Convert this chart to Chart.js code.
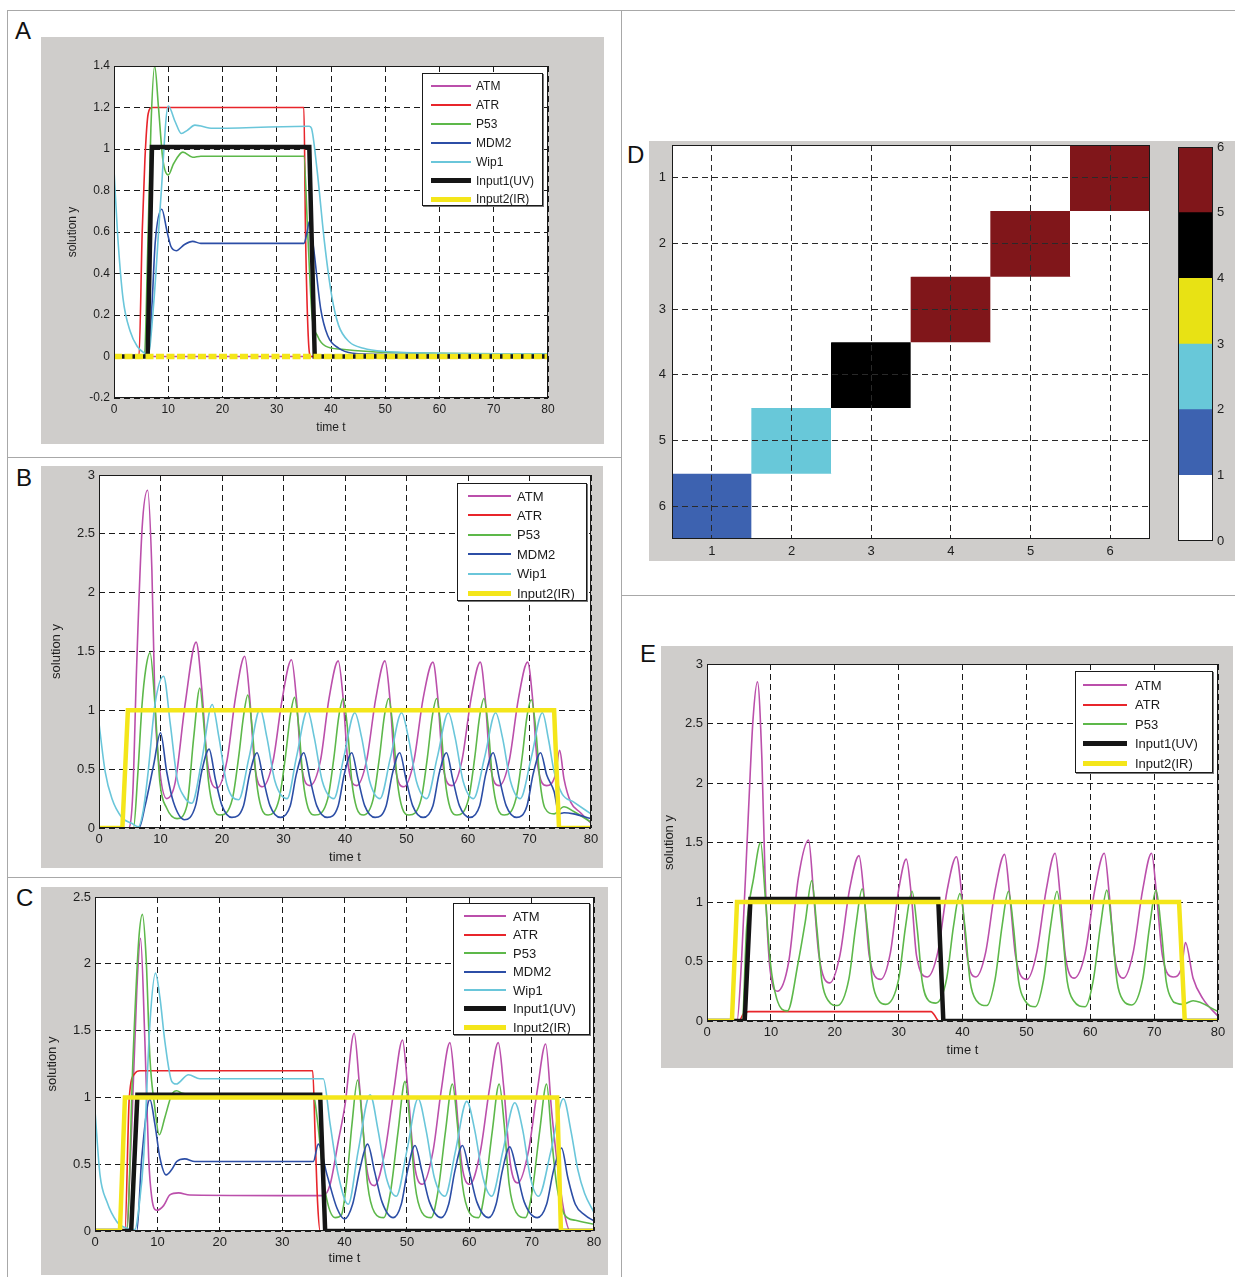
<!DOCTYPE html>
<html>
<head>
<meta charset="utf-8">
<script src="https://cdn.jsdelivr.net/npm/chart.js@4.4.1/dist/chart.umd.min.js"></script>
<style>
  body { margin: 0; width: 1235px; height: 1277px; background: #fff; position: relative; overflow: hidden;
         font-family: "Liberation Sans", Arial, sans-serif; }
  .rule { position: absolute; background: #a8a8a8; }
  .panel { position: absolute; background: #cfcdcb; }
  .panel canvas { position: absolute; left: 0; }
  .tag { position: absolute; font-family: "Liberation Sans Narrow", "Liberation Sans", sans-serif;
         font-size: 24px; line-height: 24px; color: #111; }
  .legend { position: absolute; background: #fff; border: 1px solid #1a1a1a; box-sizing: border-box;
            box-shadow: 1px 1px 0 #777; }
  .legend .ln { position: absolute; }
  .legend .tx { position: absolute; color: #1a1a1a; white-space: nowrap; }
</style>
</head>
<body>
<script>
// ===============================
// DATA  (time t, solution y)
// ===============================
const timeTicks = [0, 10, 20, 30, 40, 50, 60, 70, 80];

// --- panel A : UV only
const aATM  = [[0,0],[80,0]];
const aATR  = [[0,0],[4.6,0],[5.2,0.6],[5.7,0.95],[6.3,1.17],[7,1.2],[35,1.2],[35.3,0.6],[35.8,0.1],[36.3,0],[80,0]];
const aP53  = [[0,0],[5.6,0],[6.2,0.5],[6.8,1.1],[7.5,1.4],[8.2,1.2],[9,0.95],[10,0.875],[11,0.93],[12.7,0.985],[14.5,0.96],[16,0.965],
               [35,0.965],[35.7,0.6],[36.5,0.2],[37.5,0.1],[39,0.05],[42,0.035],[50,0.02],[80,0.012]];
const aMDM2 = [[0,0],[6.3,0],[7,0.25],[7.6,0.55],[8.8,0.71],[9.8,0.6],[10.5,0.53],[11.5,0.51],[13,0.54],[14.5,0.555],[16,0.545],
               [35,0.545],[35.6,0.6],[36,0.65],[36.8,0.52],[38.1,0.23],[39.4,0.1],[41.4,0.04],[44,0.016],[50,0.01],[80,0.008]];
const aWip1 = [[0,0.9],[0.66,0.59],[1.66,0.28],[3,0.12],[4.3,0.048],[5.6,0.016],[6.3,0.01],[7.3,0.25],[8.6,0.75],[10,1.207],[11.3,1.13],
               [12.4,1.075],[13.5,1.09],[14.9,1.115],[18.2,1.1],[36,1.11],[36.4,1.1],[37.4,0.907],[38.8,0.55],[40.1,0.297],[41.4,0.15],
               [43.4,0.07],[46,0.04],[50,0.024],[59.3,0.016],[80,0.013]];
const aUV   = [[0,0],[6.2,0],[7,1.01],[36,1.01],[37,0],[80,0]];
const aIR   = [[0,0],[80,0]];

// --- panel B : IR only
const bATM  = [[0,0],[4.8,0],[5.5,0.3],[6.1,1.34],[7,2.54],[7.9,2.87],[8.6,2.19],[9.1,1.05],[9.9,0.48],[11,0.25],[12.4,0.39],[14,1.05],
               [15.8,1.58],[16.7,1.19],[17.6,0.57],[19.2,0.34],[20.8,0.57],[22.2,1.11],[23.7,1.46],[24.5,1.11],[25.3,0.54],[26.6,0.35],
               [28.3,0.57],[29.8,1.1],[31.3,1.43],[32.1,1.1],[32.9,0.54],[34.3,0.36],[36,0.57],[37.4,1.1],[38.9,1.42],[39.7,1.1],
               [40.5,0.54],[41.9,0.36],[43.5,0.57],[45,1.1],[46.5,1.42],[47.3,1.1],[48.1,0.54],[49.6,0.35],[51.2,0.57],[52.7,1.1],
               [54.3,1.41],[55.1,1.1],[55.9,0.54],[57.4,0.36],[59,0.57],[60.5,1.1],[62,1.41],[62.8,1.1],[63.6,0.54],[65.1,0.36],
               [66.7,0.57],[68.2,1.1],[69.7,1.41],[70.5,1.1],[71.3,0.54],[72.8,0.36],[74.2,0.45],[74.9,0.66],[75.6,0.42],[76.7,0.22],
               [78.3,0.13],[80,0.04]];
const bATR  = [[0,0],[80,0]];
const bP53  = [[0,0],[5.6,0],[6.3,0.45],[7,1.05],[7.6,1.35],[8.3,1.49],[9.1,1.05],[9.9,0.39],[11,0.17],[12.7,0.08],[14.3,0.19],[15.4,0.77],
               [16.4,1.19],[17.1,0.85],[17.8,0.4],[18.6,0.17],[19.7,0.11],[21.7,0.25],[22.7,0.6],[23.5,0.95],[24.2,1.13],[24.9,0.85],
               [25.6,0.4],[26.4,0.17],[27.5,0.11],[29.3,0.25],[30.3,0.6],[31.1,0.95],[31.8,1.11],[32.5,0.85],[33.2,0.4],[34,0.17],
               [35.1,0.11],[37.2,0.25],[38.2,0.6],[39,0.95],[39.7,1.1],[40.4,0.85],[41.1,0.4],[41.9,0.17],[43,0.11],[44.6,0.25],
               [45.6,0.6],[46.4,0.95],[47.1,1.1],[47.8,0.85],[48.5,0.4],[49.3,0.17],[50.4,0.11],[52.4,0.25],[53.4,0.6],[54.2,0.95],
               [54.9,1.1],[55.6,0.85],[56.3,0.4],[57.1,0.17],[58.2,0.11],[60.1,0.25],[61.1,0.6],[61.9,0.95],[62.6,1.1],[63.3,0.85],
               [64,0.4],[64.8,0.17],[65.9,0.11],[67.8,0.25],[68.8,0.6],[69.6,0.95],[70.3,1.09],[71,0.85],[71.7,0.4],[72.5,0.17],
               [74,0.12],[75.6,0.18],[77.2,0.14],[80,0.05]];
const bMDM2 = [[0,0],[6.5,0],[7.5,0.19],[8.9,0.54],[10,0.81],[11,0.48],[12.1,0.22],[13.9,0.07],[15.7,0.19],[16.7,0.48],[17.9,0.67],
               [18.9,0.42],[20,0.19],[21.6,0.09],[23.5,0.19],[24.5,0.46],[25.7,0.64],[26.7,0.42],[27.8,0.19],[29.5,0.09],[31.1,0.19],
               [32.1,0.46],[33.3,0.64],[34.3,0.42],[35.4,0.19],[37.1,0.09],[38.9,0.19],[39.9,0.46],[41.1,0.64],[42.1,0.42],[43.2,0.19],
               [44.9,0.09],[46.7,0.19],[47.7,0.46],[48.9,0.64],[49.9,0.42],[51,0.19],[52.7,0.09],[54.3,0.19],[55.3,0.46],[56.5,0.64],
               [57.5,0.42],[58.6,0.19],[60.3,0.09],[61.9,0.19],[62.9,0.46],[64.1,0.64],[65.1,0.42],[66.2,0.19],[67.9,0.09],[69.6,0.19],
               [70.6,0.46],[71.8,0.64],[72.8,0.45],[74,0.31],[74.8,0.12],[75.6,0.13],[77.2,0.12],[80,0.08]];
const bWip1 = [[0,0.89],[1,0.48],[2.1,0.25],[3.7,0.09],[5.3,0.04],[6.4,0.01],[7.2,0.15],[8,0.48],[9.1,1.05],[10.5,1.29],[11.6,0.88],
               [12.7,0.42],[13.8,0.27],[15.1,0.21],[16.7,0.57],[18.4,1.05],[19.5,0.77],[20.8,0.37],[22.7,0.24],[24.4,0.6],[26.2,1.01],
               [27.3,0.77],[28.6,0.4],[30.6,0.25],[32.1,0.6],[33.9,1.0],[35,0.77],[36.3,0.4],[38.2,0.25],[39.8,0.6],[41.6,0.98],
               [42.7,0.77],[44,0.4],[45.7,0.25],[47.4,0.6],[49.2,0.98],[50.3,0.77],[51.6,0.4],[53.3,0.25],[55,0.6],[56.8,0.98],
               [57.9,0.77],[59.2,0.4],[60.9,0.25],[62.7,0.6],[64.5,0.98],[65.6,0.77],[66.9,0.4],[68.5,0.25],[70.3,0.6],[72.1,0.98],
               [73.1,0.75],[74,0.48],[75.3,0.29],[77.2,0.22],[80,0.12]];
const bIR   = [[0,0],[3.8,0],[4.7,1],[74,1],[74.8,0],[80,0]];

// --- panel C : UV then IR
const cATM  = [[0,0],[5,0],[5.9,0.8],[6.7,1.8],[7.3,2.19],[8,1.42],[8.6,0.55],[9.1,0.25],[9.9,0.155],[11,0.19],[12,0.27],[13.4,0.285],
               [15.2,0.27],[36.6,0.265],[37.7,0.35],[39,0.67],[40.1,0.95],[41.55,1.48],[42.4,1.09],[43.6,0.46],[44.8,0.34],[46.5,0.6],
               [47.9,1.05],[49.3,1.43],[50.1,1.09],[51.2,0.5],[52.5,0.35],[54.2,0.6],[55.5,1.05],[56.9,1.41],[57.7,1.09],[58.8,0.5],
               [60.1,0.35],[61.8,0.6],[63.2,1.05],[64.65,1.41],[65.5,1.09],[66.6,0.5],[67.8,0.36],[69.5,0.6],[70.9,1.05],[72.25,1.4],
               [73.2,0.9],[74,0.55],[75.1,0.17],[76.2,0],[80,0]];
const cATR  = [[0,0],[4.8,0],[5.5,1.0],[6.4,1.18],[7.2,1.2],[34.9,1.2],[35.3,0.7],[35.7,0.2],[36.1,0],[80,0]];
const cP53  = [[0,0],[5.1,0],[6.1,1.3],[7,2.17],[7.6,2.37],[8.2,2.04],[8.8,1.3],[9.6,0.92],[10.3,0.72],[11.2,0.85],[12.3,1.02],[13.1,1.05],
               [14,1.03],[16,1.02],[35,1.02],[35.6,0.85],[36.3,0.55],[36.9,0.3],[38.5,0.1],[39.5,0.12],[40.3,0.35],[41.2,0.8],[42.1,1.13],
               [42.9,0.8],[43.7,0.35],[44.8,0.14],[46.3,0.1],[47.4,0.3],[48.6,0.75],[49.7,1.12],[50.5,0.8],[51.3,0.35],[52.4,0.14],
               [53.9,0.1],[55,0.3],[56.2,0.75],[57.3,1.1],[58.1,0.8],[58.9,0.35],[60,0.14],[61.5,0.1],[62.5,0.3],[63.7,0.75],[64.8,1.1],
               [65.6,0.8],[66.4,0.35],[67.5,0.14],[69,0.1],[70.1,0.3],[71.3,0.75],[72.4,1.1],[73.2,0.7],[74,0.35],[75.3,0.12],[77,0.08],
               [80,0.05]];
const cMDM2 = [[0,0],[6.7,0],[7.5,0.55],[8.8,0.985],[9.6,0.8],[10.4,0.55],[11.4,0.42],[12.3,0.46],[13.1,0.52],[14.4,0.54],[16,0.52],
               [35,0.52],[35.8,0.65],[37.2,0.42],[38.8,0.17],[40,0.09],[41.3,0.2],[42.5,0.47],[43.7,0.65],[44.8,0.45],[46,0.22],[47.8,0.1],
               [49.1,0.2],[50.1,0.45],[51.3,0.64],[52.4,0.45],[53.6,0.22],[55.5,0.1],[56.7,0.2],[57.7,0.45],[58.9,0.64],[60,0.45],
               [61.2,0.22],[63.1,0.1],[64.3,0.2],[65.3,0.45],[66.5,0.63],[67.6,0.45],[68.8,0.22],[70.9,0.1],[72.4,0.2],[73.5,0.45],
               [74.8,0.62],[75.8,0.4],[77,0.2],[78.5,0.12],[80,0.075]];
const cWip1 = [[0,0.9],[0.8,0.42],[1.9,0.22],[3.5,0.07],[5.1,0.02],[6.4,0.01],[7.1,0.2],[7.8,0.55],[8.8,1.55],[9.7,1.93],[10.4,1.75],
               [11.2,1.42],[12.3,1.12],[13,1.1],[15,1.17],[16.8,1.14],[36.6,1.14],[37.7,0.8],[39,0.42],[40.6,0.2],[42.2,0.6],[44.1,1.02],
               [45.4,0.75],[46.7,0.4],[48.3,0.26],[50,0.6],[51.8,0.99],[53.1,0.75],[54.4,0.4],[56.1,0.26],[57.8,0.6],[59.6,0.97],
               [60.9,0.75],[62.2,0.4],[63.6,0.26],[65.4,0.6],[67.3,0.96],[68.6,0.75],[69.8,0.4],[71.1,0.26],[73.1,0.6],[75.1,0.99],
               [76.3,0.75],[77.4,0.46],[78.5,0.28],[80,0.14]];
const cUV   = [[0,0],[5.8,0],[6.8,1.02],[36.1,1.02],[36.9,0],[80,0]];
const cIR   = [[0,0],[4,0],[4.8,1],[74.1,1],[74.7,0],[80,0]];

// --- panel E : UV then IR (no MDM2 / Wip1)
const eATM  = [[0,0],[4.7,0],[5.4,0.5],[6.5,1.77],[7.2,2.53],[7.9,2.85],[8.6,2.19],[9.1,1.2],[9.9,0.42],[11,0.25],[12.8,0.5],[14.3,1.2],
               [15.9,1.52],[16.7,1.06],[17.5,0.56],[19.2,0.32],[20.8,0.55],[22.3,1.1],[23.8,1.39],[24.6,1.05],[25.4,0.55],[27.2,0.35],
               [28.7,0.57],[30,1.1],[31.2,1.36],[32,1.05],[32.8,0.55],[34.5,0.37],[36.1,0.57],[37.6,1.1],[39.05,1.38],[39.9,1.05],
               [40.7,0.55],[42.1,0.37],[43.6,0.57],[45.1,1.1],[46.6,1.4],[47.4,1.05],[48.3,0.55],[50.1,0.35],[51.6,0.57],[53.1,1.1],
               [54.5,1.41],[55.3,1.05],[56.1,0.55],[57.5,0.36],[59.2,0.57],[60.7,1.1],[62.2,1.41],[63,1.05],[63.8,0.55],[65.2,0.36],
               [66.7,0.57],[68.2,1.1],[69.6,1.41],[70.4,1.05],[71.3,0.55],[73,0.37],[74.3,0.45],[74.9,0.66],[76.1,0.36],[77.6,0.19],
               [80,0.04]];
const eATR  = [[0,0],[5,0],[5.7,0.06],[6.5,0.079],[35.1,0.079],[35.6,0.05],[36.3,0],[80,0]];
const eP53  = [[0,0],[5.5,0],[6.2,0.78],[7.3,1.2],[8.4,1.5],[9.1,1.06],[9.9,0.5],[10.9,0.19],[12.6,0.085],[14.3,0.5],[15.4,0.84],[16.4,1.18],
               [17.2,0.78],[18,0.33],[19,0.17],[20.4,0.13],[22.2,0.35],[23.3,0.8],[24.3,1.11],[25.1,0.78],[25.9,0.33],[26.9,0.17],
               [28,0.14],[30,0.35],[31.1,0.8],[32.1,1.09],[32.9,0.78],[33.7,0.33],[34.7,0.17],[35.8,0.15],[37.5,0.35],[38.6,0.8],
               [39.6,1.07],[40.4,0.78],[41.2,0.33],[42.2,0.17],[43.8,0.13],[45.1,0.35],[46.2,0.8],[47.2,1.09],[48,0.78],[48.8,0.33],
               [49.8,0.17],[51.4,0.12],[52.7,0.35],[53.8,0.8],[54.8,1.09],[55.6,0.78],[56.4,0.33],[57.4,0.17],[59.2,0.12],[60.5,0.35],
               [61.6,0.8],[62.6,1.1],[63.4,0.78],[64.2,0.33],[65.2,0.17],[66.5,0.135],[68.2,0.35],[69.3,0.8],[70.3,1.1],[71.1,0.78],
               [71.9,0.33],[72.9,0.17],[73.5,0.15],[74.5,0.14],[76.1,0.17],[80,0.08]];
const eUV   = [[0,0],[5.9,0],[6.8,1.025],[36.2,1.025],[37,0],[80,0]];
const eIR   = [[0,0],[3.9,0],[4.7,1],[73.9,1],[74.8,0],[80,0]];

// --- panel D : 6x6 matrix and its colour scale
const dLabels = [1, 2, 3, 4, 5, 6];
const dRows = [
  [0, 0, 0, 0, 0, 6],
  [0, 0, 0, 0, 6, 0],
  [0, 0, 0, 6, 0, 0],
  [0, 0, 4, 0, 0, 0],
  [0, 2, 0, 0, 0, 0],
  [1, 0, 0, 0, 0, 0]
];
const dLevels = [0, 1, 2, 3, 4, 5, 6];
const dColors = ['#ffffff', '#3d62b0', '#68c8d9', '#e8e214', '#000000', '#80161a'];

// ===============================
// STYLE
// ===============================
const COL = { ATM: '#bb4fab', ATR: '#e8252b', P53: '#5db84a', MDM2: '#2c4ea6', Wip1: '#6ac6da', UV: '#151515', IR: '#f4e61a' };
const TICK = '#1e1e1e';
const fmt = v => String(Math.round(v * 100) / 100);

function s(name, data, kind) {
  const key = name.startsWith('Input1') ? 'UV' : name.startsWith('Input2') ? 'IR' : name;
  return { name, data, color: COL[key], thick: key === 'UV' || key === 'IR', kind };
}

const panels = [
  { tag: 'A', box: [41, 37, 563, 407], lift: 0, pad: { left: 24, top: 29, right: 56, bottom: 9 }, yw: 49, xh: 37, fs: 12,
    y: { min: -0.2, max: 1.4, step: 0.2 },
    legend: { box: [422, 73, 121, 133], first: 12, step: 18.9, lx: 8, lw: 40, tx: 53, fs: 12 },
    sets: [s('ATM', aATM), s('ATR', aATR), s('P53', aP53), s('MDM2', aMDM2), s('Wip1', aWip1),
           s('Input1(UV)', aUV, 'step'), s('Input2(IR)', aIR, 'dots')] },
  { tag: 'B', box: [41, 466, 562, 402], lift: 3, pad: { left: 8, top: 12, right: 12, bottom: 3 }, yw: 50, xh: 37, fs: 13,
    y: { min: 0, max: 3, step: 0.5 },
    legend: { box: [457, 483, 130, 118], first: 12, step: 19.4, lx: 10, lw: 43, tx: 59, fs: 13 },
    sets: [s('ATM', bATM), s('ATR', bATR), s('P53', bP53), s('MDM2', bMDM2), s('Wip1', bWip1),
           s('Input2(IR)', bIR, 'step')] },
  { tag: 'C', box: [41, 887, 567, 388], lift: 2, pad: { left: 4, top: 12, right: 14, bottom: 9 }, yw: 50, xh: 35, fs: 13,
    y: { min: 0, max: 2.5, step: 0.5 },
    legend: { box: [453, 903, 137, 132], first: 12, step: 18.5, lx: 10, lw: 42, tx: 59, fs: 13 },
    sets: [s('ATM', cATM), s('ATR', cATR), s('P53', cP53), s('MDM2', cMDM2), s('Wip1', cWip1),
           s('Input1(UV)', cUV, 'step'), s('Input2(IR)', cIR, 'step')] },
  { tag: 'E', box: [661, 646, 572, 422], lift: 0, pad: { left: 1, top: 18, right: 15, bottom: 10 }, yw: 45, xh: 37, fs: 13,
    y: { min: 0, max: 3, step: 0.5 },
    legend: { box: [1075, 671, 138, 102], first: 13, step: 19.5, lx: 7, lw: 44, tx: 59, fs: 13 },
    sets: [s('ATM', eATM), s('ATR', eATR), s('P53', eP53),
           s('Input1(UV)', eUV, 'step'), s('Input2(IR)', eIR, 'step')] }
];

// ===============================
// PLUGINS
// ===============================
const whitePlot = {
  id: 'whitePlot',
  beforeDraw(chart) {
    const { ctx, chartArea: a } = chart;
    ctx.save();
    ctx.fillStyle = '#fff';
    ctx.fillRect(a.left, a.top, a.right - a.left, a.bottom - a.top);
    ctx.restore();
  }
};
const frame = {
  id: 'frame',
  afterDraw(chart) {
    const { ctx, chartArea: a } = chart;
    ctx.save();
    ctx.strokeStyle = '#1a1a1a';
    ctx.lineWidth = 1;
    ctx.strokeRect(Math.round(a.left) + 0.5, Math.round(a.top) + 0.5, Math.round(a.right - a.left) - 1, Math.round(a.bottom - a.top) - 1);
    ctx.restore();
  }
};

// ===============================
// HELPERS
// ===============================
function el(cls, parent, st) {
  const d = document.createElement('div');
  if (cls) d.className = cls;
  Object.assign(d.style, st || {});
  (parent || document.body).appendChild(d);
  return d;
}
const px = v => v + 'px';

// gray panel; the canvas can start a few px above it (lift) so the plot top lands where wanted
function makePanel(box, lift) {
  const wrap = el('panel', null, { left: px(box[0]), top: px(box[1]), width: px(box[2]), height: px(box[3]) });
  const cv = document.createElement('canvas');
  cv.width = box[2];
  cv.height = box[3] + (lift || 0);
  cv.style.top = px(-(lift || 0));
  wrap.appendChild(cv);
  return cv;
}

function lineChart(p) {
  const cv = makePanel(p.box, p.lift);
  const n = p.sets.length;
  new Chart(cv, {
    type: 'line',
    data: {
      datasets: p.sets.map((d, i) => ({
        label: d.name,
        data: d.data.map(([x, y]) => ({ x, y })),
        borderColor: d.color,
        borderWidth: d.kind === 'dots' ? 5.5 : d.thick ? 4.5 : 1.6,
        borderDash: d.kind === 'dots' ? [8, 2.5] : [],
        pointRadius: 0,
        fill: false,
        tension: 0,
        cubicInterpolationMode: d.kind ? 'default' : 'monotone',
        order: n - i
      }))
    },
    options: {
      responsive: false, animation: false, events: [],
      layout: { padding: p.pad },
      plugins: { legend: { display: false }, tooltip: { enabled: false } },
      scales: {
        x: {
          type: 'linear', min: 0, max: 80,
          afterBuildTicks: sc => { sc.ticks = timeTicks.map(v => ({ value: v })); },
          afterFit: sc => { sc.height = p.xh; },
          ticks: { color: TICK, font: { size: p.fs }, padding: 4, maxRotation: 0, callback: fmt },
          grid: { color: '#1a1a1a', drawTicks: false },
          border: { display: false, dash: [6, 4] },
          title: { display: true, text: 'time t', color: TICK, font: { size: p.fs }, padding: 0 }
        },
        y: {
          type: 'linear', min: p.y.min, max: p.y.max,
          ticks: { stepSize: p.y.step, color: TICK, font: { size: p.fs }, padding: 4, callback: fmt },
          afterFit: sc => { sc.width = p.yw; },
          grid: { color: '#1a1a1a', drawTicks: false },
          border: { display: false, dash: [6, 4] },
          title: { display: true, text: 'solution y', color: TICK, font: { size: p.fs }, padding: 0 }
        }
      }
    },
    plugins: [whitePlot, frame]
  });

  // legend box, built from the same series list
  const L = p.legend;
  const lg = el('legend', null, { left: px(L.box[0]), top: px(L.box[1]), width: px(L.box[2]), height: px(L.box[3]) });
  p.sets.forEach((d, i) => {
    const yc = L.first + i * L.step;
    const w = d.thick ? 5 : 2;
    el('ln', lg, { left: px(L.lx), top: px(yc - w / 2), width: px(L.lw), height: px(w), background: d.color });
    el('tx', lg, { left: px(L.tx), top: px(yc - L.fs / 2 - 1), fontSize: px(L.fs), lineHeight: px(L.fs + 2) });
    lg.lastChild.textContent = d.name;
  });
}

// ===============================
// PAGE FRAME (table rules + panel letters)
// ===============================
[[7, 10, 1228, 1], [7, 10, 1, 1267], [621, 10, 1, 1267], [7, 457, 614, 1], [7, 877, 614, 1], [621, 595, 614, 1]]
  .forEach(r => el('rule', null, { left: px(r[0]), top: px(r[1]), width: px(r[2]), height: px(r[3]) }));

[['A', 15, 19], ['B', 16, 466], ['C', 16, 886], ['D', 627, 143], ['E', 640, 642]]
  .forEach(t => { el('tag', null, { left: px(t[1]), top: px(t[2]) }).textContent = t[0]; });

// ===============================
// LINE PANELS
// ===============================
panels.forEach(lineChart);

// ===============================
// PANEL D : matrix
// ===============================
const colorOf = v => dColors[Math.min(Math.floor(v), dColors.length - 1)];
const cvD = makePanel([649, 141, 586, 420], 10);
new Chart(cvD, {
  type: 'bar',
  data: {
    labels: dLabels.map(String),
    datasets: dRows.map((row, r) => ({
      data: row.map(() => [dLabels[r] - 0.5, dLabels[r] + 0.5]),
      backgroundColor: row.map(colorOf),
      borderWidth: 0, grouped: false, barPercentage: 1, categoryPercentage: 1
    }))
  },
  options: {
    responsive: false, animation: false, events: [],
    layout: { padding: { left: 0, top: 14, right: 85, bottom: 0 } },
    plugins: { legend: { display: false }, tooltip: { enabled: false } },
    scales: {
      x: {
        afterFit: sc => { sc.height = 22; },
        ticks: { color: TICK, font: { size: 13 }, padding: 5 },
        grid: { offset: false, color: '#2a2a2a', drawTicks: false, z: 1 },
        border: { display: false, dash: [6, 4] }
      },
      y: {
        type: 'linear', reverse: true, min: 0.5, max: 6.5,
        afterBuildTicks: sc => { sc.ticks = dLabels.map(v => ({ value: v })); },
        afterFit: sc => { sc.width = 23; },
        ticks: { color: TICK, font: { size: 13 }, padding: 6 },
        grid: { color: '#2a2a2a', drawTicks: false, z: 1 },
        border: { display: false, dash: [6, 4] }
      }
    }
  },
  plugins: [whitePlot, frame]
});

// colour bar
const cbWrap = el('', null, { position: 'absolute', left: '1170px', top: '135px', width: '65px', height: '426px' });
const cvCB = document.createElement('canvas');
cvCB.width = 65; cvCB.height = 426;
cbWrap.appendChild(cvCB);
new Chart(cvCB, {
  type: 'bar',
  data: {
    labels: [''],
    datasets: dColors.map((c, k) => ({
      data: [[dLevels[k], dLevels[k + 1]]],
      backgroundColor: c, borderWidth: 0, grouped: false, barPercentage: 1, categoryPercentage: 1
    }))
  },
  options: {
    responsive: false, animation: false, events: [],
    layout: { padding: { left: 8, top: 12, right: 0, bottom: 20 } },
    plugins: { legend: { display: false }, tooltip: { enabled: false } },
    scales: {
      x: { display: false },
      y: {
        position: 'right', min: 0, max: 6,
        afterBuildTicks: sc => { sc.ticks = dLevels.map(v => ({ value: v })); },
        afterFit: sc => { sc.width = 22; },
        ticks: { color: TICK, font: { size: 13 }, padding: 4 },
        grid: { display: false, drawTicks: false },
        border: { display: false }
      }
    }
  },
  plugins: [frame]
});
</script>
</body>
</html>
